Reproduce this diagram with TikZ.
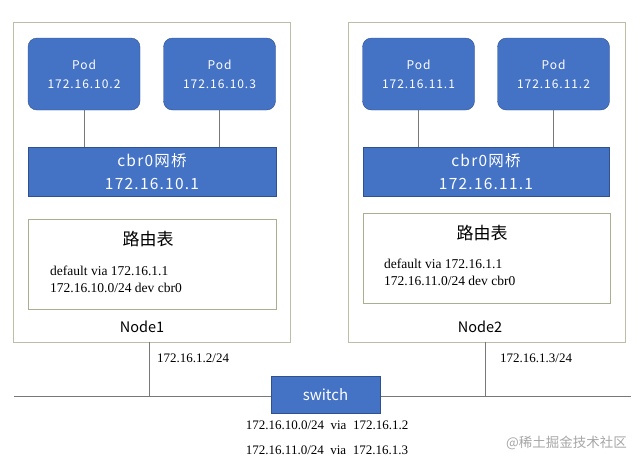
\documentclass[tikz,border=0pt]{standalone}
\usepackage{fontspec}
\setmainfont{Liberation Serif}
\newfontfamily\cjk{Noto Sans CJK SC}
\newfontfamily\cjkwide[LetterSpace=8]{Noto Sans CJK SC}
\usepackage{tikz}
\usetikzlibrary{positioning}
\definecolor{podblue}{HTML}{4472C4}
\definecolor{podedge}{HTML}{2F528F}
\definecolor{hostedge}{RGB}{190,190,168}
\definecolor{tableedge}{RGB}{168,176,146}
\definecolor{wire}{RGB}{120,120,120}

\begin{document}
\begin{tikzpicture}[x=1pt,y=-1pt,thin,
      pod node/.style={rectangle,rounded corners=9pt,draw=podedge,fill=podblue,text=white,
        minimum width=112pt,minimum height=72pt,align=center,inner sep=0pt,
        font=\cjkwide\fontsize{12}{19}\selectfont},
      bridge node/.style={rectangle,draw=podedge,fill=podblue,text=white,minimum height=49pt,
        align=center,inner sep=0pt,font=\cjkwide\fontsize{15.5}{23}\selectfont},
      host node/.style={rectangle,draw=hostedge,minimum width=277pt,minimum height=320pt,inner sep=0pt},
      table node/.style={rectangle,draw=tableedge,minimum height=90pt,inner sep=0pt},
      route text/.style={align=left,inner sep=0pt,font=\fontsize{13.5}{17}\selectfont},
      addr text/.style={inner sep=0pt,font=\fontsize{13}{14}\selectfont}]
      \useasboundingbox (0,0) rectangle (640,464);

      % hosts
      \node[host node] (h1) at (152,182) {};
      \node[host node] (h2) at (486.5,182) {};

      % pods and bridges
      \node[pod node] (p1) at (84,74) {Pod\\172.16.10.2};
      \node[pod node] (p2) at (219.5,74) {Pod\\172.16.10.3};
      \node[pod node] (p3) at (418.5,74) {Pod\\172.16.11.1};
      \node[pod node] (p4) at (553.5,74) {Pod\\172.16.11.2};
      \node[bridge node,minimum width=248pt] (b1) at (152,171.5) {cbr0网桥\\172.16.10.1};
      \node[bridge node,minimum width=246pt] (b2) at (486,171.5) {cbr0网桥\\172.16.11.1};

      \draw[wire] (p1) -- (p1 |- b1.north);
      \draw[wire] (p2) -- (p2 |- b1.north);
      \draw[wire] (p3) -- (p3 |- b2.north);
      \draw[wire] (p4) -- (p4 |- b2.north);

      % routing tables
      \node[table node,minimum width=248pt] (t1) at (152,264) {};
      \node[table node,minimum width=247pt] (t2) at (486.5,258) {};
      \node[font=\cjk\fontsize{17}{19}\selectfont] (t1title) at (148,239) {路由表};
      \node[font=\cjk\fontsize{17}{19}\selectfont] (t2title) at (482,233) {路由表};
      \node[route text,anchor=west] (t1rows) at (50,279) {default via 172.16.1.1\\172.16.10.0/24 dev cbr0};
      \node[route text,anchor=west] (t2rows) at (384,272) {default via 172.16.1.1\\172.16.11.0/24 dev cbr0};
      \node[font=\cjk\fontsize{14.5}{16}\selectfont] (n1) at (142,327) {Node1};
      \node[font=\cjk\fontsize{14.5}{16}\selectfont] (n2) at (480,327) {Node2};

      % bus and switch
      \coordinate (busL) at (14,396);
      \coordinate (busR) at (631,396);
      \draw[wire,line width=0.9pt] (busL) -- (busR);
      \draw[wire] ([xshift=-3pt]h1.south) -- ([xshift=-3pt]h1.south |- busL);
      \draw[wire] ([xshift=-1.5pt]h2.south) -- ([xshift=-1.5pt]h2.south |- busL);
      \node[addr text,anchor=west] (ip1) at (157,358) {172.16.1.2/24};
      \node[addr text,anchor=west] (ip2) at (500,358) {172.16.1.3/24};
      \node[rectangle,draw=podedge,fill=podblue,text=white,minimum width=109pt,minimum height=37pt,
        inner sep=0pt,font=\cjk\fontsize{15}{17}\selectfont] (sw) at (325.5,394.5) {switch};
      \node[addr text] (r1) at (327,425) {172.16.10.0/24 \ via \ 172.16.1.2};
      \node[addr text] (r2) at (327,450) {172.16.11.0/24 \ via \ 172.16.1.3};
      \node[anchor=west,inner sep=0pt,text=black!35,font=\cjk\fontsize{13.5}{15}\selectfont] (mark) at (506,443) {@稀土掘金技术社区};
    \end{tikzpicture}
\end{document}
